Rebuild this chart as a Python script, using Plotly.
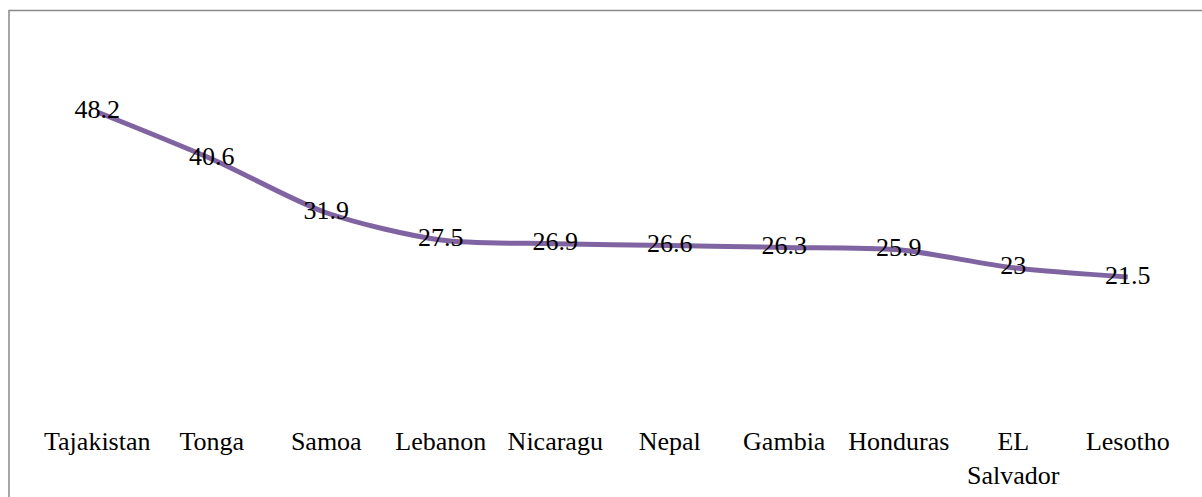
import plotly.graph_objects as go

countries = ["Tajakistan", "Tonga", "Samoa", "Lebanon", "Nicaragu", "Nepal",
             "Gambia", "Honduras", "EL<br>Salvador", "Lesotho"]
values = [48.2, 40.6, 31.9, 27.5, 26.9, 26.6, 26.3, 25.9, 23, 21.5]
value_labels = ["48.2", "40.6", "31.9", "27.5", "26.9", "26.6", "26.3", "25.9", "23", "21.5"]

FONT = "'Liberation Serif', 'Times New Roman', serif"

fig = go.Figure()
fig.add_trace(go.Scatter(
    x=list(range(len(countries))), y=values,
    mode="lines+text",
    line=dict(color="#8064A2", width=5, shape="spline", smoothing=0.8),
    text=value_labels, textposition="middle center",
    textfont=dict(family=FONT, size=26, color="#000000"),
    hoverinfo="skip", showlegend=False, cliponaxis=False,
))

fig.update_layout(
    width=1202, height=497,
    margin=dict(l=40, r=17, t=39, b=87, autoexpand=False),
    paper_bgcolor="white", plot_bgcolor="white",
    xaxis=dict(
        range=[-0.5, len(countries) - 0.5], automargin=False,
        tickmode="array", tickvals=list(range(len(countries))), ticktext=countries,
        showgrid=False, zeroline=False, showline=False,
        ticks="outside", ticklen=8, tickcolor="rgba(0,0,0,0)",
        tickfont=dict(family=FONT, size=26, color="#000000"),
    ),
    yaxis=dict(range=[0, 60], visible=False, automargin=False),
    shapes=[dict(
        type="rect", xref="paper", yref="paper",
        x0=(9 - 40) / 1145, x1=(1215 - 40) / 1145,
        y0=(410 - 510) / 371, y1=(410 - 10.5) / 371,
        line=dict(color="#898989", width=1.5), fillcolor="rgba(0,0,0,0)", layer="below",
    )],
)

fig.write_html("out.html", config={"displayModeBar": False},
               post_script="document.body.style.margin='0px';")
